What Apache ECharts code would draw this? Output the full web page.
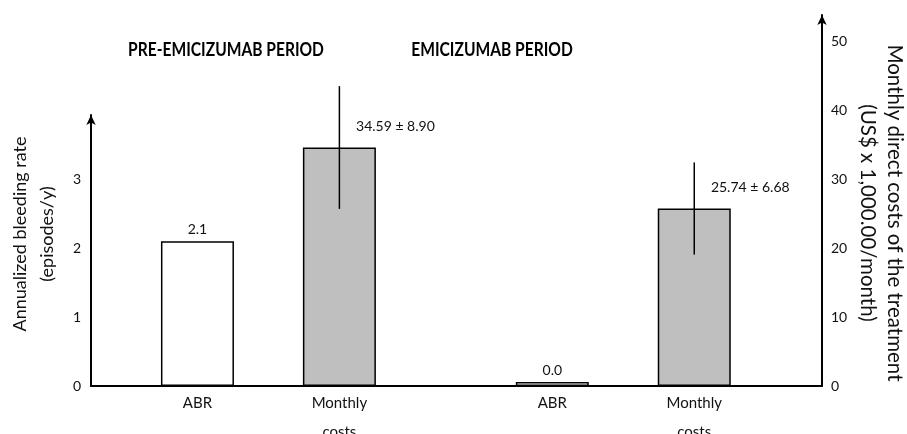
<!DOCTYPE html>
<html>
<head>
<meta charset="utf-8">
<script src="https://cdn.jsdelivr.net/npm/echarts@6/dist/echarts.min.js"></script>
<style>html,body{margin:0;padding:0;background:#fff}#c{width:907px;height:434px}</style>
</head>
<body>
<div id="c"></div>
<script>
// ---- data ----
const categories = ['ABR', 'Monthly\ncosts', 'ABR', 'Monthly\ncosts'];
const slots = [1.5, 3.5, 6.5, 8.5];           // x-axis slot of each category
const periods = ['PRE-EMICIZUMAB PERIOD', 'EMICIZUMAB PERIOD'];
const abrValues = [2.1, 0.0];                 // episodes/y (pre, emicizumab)
const costMeans = [34.59, 25.74];             // US$ x 1,000/month
const costSD = [8.90, 6.68];
const leftAxisName = 'Annualized bleeding rate\n(episodes/y)';
const rightAxisName = 'Monthly direct costs of the treatment\n(US$ x 1,000.00/month)';

const FONT = 'Lato';
const chart = echarts.init(document.getElementById('c'));

const xCommon = {
  type: 'value', min: 0, max: 10.3, interval: 0.5,
  splitLine: { show: false }, axisTick: { show: false }
};
const yLine = { show: true, onZero: false, lineStyle: { color: '#000', width: 2 }, symbol: ['none', 'arrow'], symbolSize: [7, 10] };

const option = {
  animation: false,
  textStyle: { fontFamily: FONT },
  grid: [
    { left: 91, right: 85, top: 115, bottom: 48, outerBoundsMode: 'none', containLabel: false },
    { left: 91, right: 85, top: 15, bottom: 48, outerBoundsMode: 'none', containLabel: false }
  ],
  xAxis: [
    Object.assign({}, xCommon, {
      gridIndex: 0,
      axisLine: { show: true, onZero: false, lineStyle: { color: '#000', width: 2 } },
      axisLabel: {
        show: true, interval: 0, margin: 3, color: '#111', fontSize: 15, lineHeight: 29,
        fontFamily: FONT, showMaxLabel: false, showMinLabel: false,
        formatter: v => { const i = slots.indexOf(v); return i >= 0 ? categories[i] : ''; }
      }
    }),
    Object.assign({}, xCommon, { gridIndex: 1, show: false })
  ],
  yAxis: [
    {
      type: 'value', gridIndex: 0, position: 'left', min: 0, max: 3.93, interval: 1,
      splitLine: { show: false }, axisTick: { show: false }, axisLine: yLine,
      axisLabel: { color: '#111', fontSize: 14, margin: 10, showMaxLabel: false, fontFamily: FONT }
    },
    {
      type: 'value', gridIndex: 1, position: 'right', min: 0, max: 53.8, interval: 10,
      splitLine: { show: false }, axisTick: { show: false }, axisLine: yLine,
      axisLabel: { color: '#111', fontSize: 14, margin: 9, showMaxLabel: false, fontFamily: FONT }
    }
  ],
  graphic: [
    { type: 'text', x: 226, y: 50, scaleX: 0.82, style: { text: periods[0], fill: '#000', font: 'bold 19px ' + FONT, textAlign: 'center', textVerticalAlign: 'middle' } },
    { type: 'text', x: 492, y: 50, scaleX: 0.82, style: { text: periods[1], fill: '#000', font: 'bold 19px ' + FONT, textAlign: 'center', textVerticalAlign: 'middle' } },
    { type: 'text', x: 34, y: 234, rotation: Math.PI / 2, style: { text: leftAxisName, fill: '#111', font: '18px ' + FONT, lineHeight: 27, textAlign: 'center', textVerticalAlign: 'middle' } },
    { type: 'text', x: 881, y: 213, rotation: -Math.PI / 2, style: { text: rightAxisName, fill: '#111', font: '20.5px ' + FONT, lineHeight: 27, textAlign: 'center', textVerticalAlign: 'middle' } }
  ],
  series: [
    {
      name: 'ABR', type: 'bar', xAxisIndex: 0, yAxisIndex: 0, barWidth: 73, barMinHeight: 4,
      data: [[slots[0], abrValues[0]], [slots[2], abrValues[1]]],
      itemStyle: { color: '#fff', borderColor: '#000', borderWidth: 1.5 },
      label: { show: true, position: 'top', distance: 5, color: '#111', fontSize: 14, fontFamily: FONT,
        formatter: p => p.value[1].toFixed(1) }
    },
    {
      name: 'Monthly costs', type: 'bar', xAxisIndex: 1, yAxisIndex: 1, barWidth: 73,
      data: [[slots[1], costMeans[0]], [slots[3], costMeans[1]]],
      itemStyle: { color: '#bfbfbf', borderColor: '#000', borderWidth: 1.5 },
      label: { show: true, position: 'top', distance: 5, offset: [56, -9], color: '#111', fontSize: 14, fontFamily: FONT,
        formatter: p => costMeans[p.dataIndex].toFixed(2) + ' ± ' + costSD[p.dataIndex].toFixed(2) }
    },
    {
      name: 'SD', type: 'custom', xAxisIndex: 1, yAxisIndex: 1, z: 5,
      data: costMeans.map((m, i) => [slots[i * 2 + 1], m - costSD[i], m + costSD[i]]),
      encode: { x: 0, y: [1, 2] },
      renderItem: (params, api) => {
        const a = api.coord([api.value(0), api.value(1)]);
        const b = api.coord([api.value(0), api.value(2)]);
        return { type: 'line', shape: { x1: a[0], y1: a[1], x2: b[0], y2: b[1] }, style: { stroke: '#000', lineWidth: 1.5 } };
      }
    }
  ]
};
chart.setOption(option);
</script>
</body>
</html>
